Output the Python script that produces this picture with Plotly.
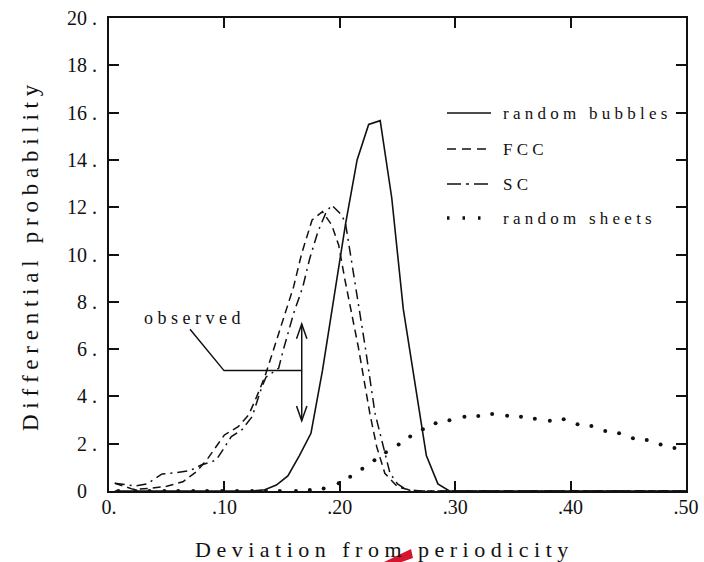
import plotly.graph_objects as go

# ---- data -------------------------------------------------------------
bubbles_x = [0.005, 0.125, 0.135, 0.145, 0.155, 0.165, 0.175, 0.185, 0.195, 0.205,
             0.215, 0.225, 0.235, 0.245, 0.255, 0.265, 0.275, 0.285, 0.295, 0.50]
bubbles_y = [0.0, 0.0, 0.05, 0.25, 0.64, 1.5, 2.44, 5.1, 8.2, 11.3,
             14.0, 15.5, 15.66, 12.4, 7.7, 4.6, 1.5, 0.3, 0.0, 0.0]

fcc_x = [0.005, 0.021, 0.036, 0.050, 0.064, 0.076, 0.086, 0.095, 0.100, 0.112,
         0.121, 0.128, 0.135, 0.142, 0.151, 0.160, 0.167, 0.176, 0.185, 0.193,
         0.199, 0.2045, 0.216, 0.226, 0.232, 0.239, 0.250, 0.260, 0.270, 0.50]
fcc_y = [0.33, 0.07, 0.11, 0.20, 0.39, 0.82, 1.40, 2.02, 2.37, 2.72,
         3.21, 3.99, 4.83, 5.89, 7.23, 8.64, 10.05, 11.46, 11.81, 11.25,
         10.40, 8.92, 6.10, 3.29, 1.87, 0.75, 0.18, 0.05, 0.0, 0.0]

sc_x = [0.005, 0.023, 0.033, 0.046, 0.057, 0.070, 0.080, 0.093, 0.106, 0.115,
        0.124, 0.132, 0.136, 0.147, 0.151, 0.160, 0.168, 0.174, 0.181, 0.188,
        0.193, 0.2016, 0.205, 0.2088, 0.2123, 0.222, 0.2305, 0.2377, 0.2435, 0.250,
        0.258, 0.265, 0.50]
sc_y = [0.33, 0.21, 0.30, 0.72, 0.77, 0.86, 1.10, 1.31, 2.30, 2.58,
        3.14, 4.34, 4.81, 5.19, 5.96, 7.51, 8.64, 9.84, 10.96, 11.77,
        12.09, 11.67, 11.30, 10.15, 8.95, 6.10, 3.29, 1.87, 0.75, 0.30,
        0.05, 0.0, 0.0]

sheets_x = [0.008, 0.023, 0.035, 0.048, 0.060, 0.073, 0.085, 0.098, 0.111, 0.124,
            0.136, 0.148, 0.162, 0.174, 0.186, 0.199, 0.209, 0.2195, 0.230, 0.240,
            0.251, 0.261, 0.272, 0.283, 0.295, 0.308, 0.320, 0.332, 0.345, 0.357,
            0.369, 0.382, 0.394, 0.406, 0.418, 0.430, 0.442, 0.454, 0.466, 0.478,
            0.490]
sheets_y = [0, 0, 0, 0, 0, 0, 0, 0, 0, 0,
            0, 0, 0, 0.04, 0.11, 0.33, 0.60, 0.94, 1.30, 1.64,
            1.97, 2.30, 2.61, 2.86, 2.99, 3.14, 3.17, 3.26, 3.18, 3.14,
            3.06, 2.97, 3.03, 2.82, 2.75, 2.54, 2.44, 2.23, 2.16, 1.97,
            1.82]

# observed range (double arrow) and its label
observed_x = 0.167
observed_range = [2.97, 7.06]
observed_leader_y = 5.09
observed_label_pos = [0.0715, 7.31]

x_tickvals = [0, 0.1, 0.2, 0.3, 0.4, 0.5]
x_ticktext = ["0.", ".10", ".20", ".30", ".40", ".50"]
y_tickvals = [0, 2, 4, 6, 8, 10, 12, 14, 16, 18, 20]
y_ticktext = ["0\u2002", "2\u00a0.", "4\u00a0.", "6\u00a0.", "8\u00a0.", "10\u00a0.",
              "12\u00a0.", "14\u00a0.", "16\u00a0.", "18\u00a0.", "20\u00a0."]

series_names = ["random bubbles", "FCC", "SC", "random sheets"]

# ---- layout constants -------------------------------------------------
W, H = 704, 562
L, R, T, B = 109, 18, 18, 71
FONT = "Liberation Serif, Times New Roman, serif"
INK = "#111111"


def spaced(text, sep="\u00a0"):
    """Letter-spaced text: separator between letters, wider gap between words."""
    return (sep * 3).join(sep.join(word) for word in text.split(" "))


def paper(px, py):
    """Pixel position on the page -> paper coordinates."""
    return (px - L) / (W - L - R), (H - B - py) / (H - T - B)


fig = go.Figure()

fig.add_trace(go.Scatter(x=bubbles_x, y=bubbles_y, mode="lines", name=series_names[0],
                         line=dict(color=INK, width=1.6)))
fig.add_trace(go.Scatter(x=fcc_x, y=fcc_y, mode="lines", name=series_names[1],
                         line=dict(color=INK, width=1.5, dash="8px,5px")))
fig.add_trace(go.Scatter(x=sc_x, y=sc_y, mode="lines", name=series_names[2],
                         line=dict(color=INK, width=1.5, dash="10px,5px,2px,5px")))
fig.add_trace(go.Scatter(x=sheets_x, y=sheets_y, mode="markers", name=series_names[3],
                         marker=dict(color=INK, size=4)))

shapes = []
annotations = []

# legend: sample strokes + letter-spaced labels
legend_rows = [113, 149, 184, 218]
legend_styles = [
    dict(dash="solid", width=1.6),
    dict(dash="9px,6px", width=1.5),
    dict(dash="14px,5px,3px,5px", width=1.5),
    dict(dash="2.5px,13px", width=3.5),
]
for name, py, style in zip(series_names, legend_rows, legend_styles):
    x0, y0 = paper(447, py)
    x1, _ = paper(491, py)
    shapes.append(dict(type="line", xref="paper", yref="paper", x0=x0, x1=x1, y0=y0, y1=y0,
                       line=dict(color=INK, width=style["width"], dash=style["dash"])))
    tx, ty = paper(501, py)
    annotations.append(dict(xref="paper", yref="paper", x=tx, y=ty, xanchor="left",
                            yanchor="middle", showarrow=False, text=spaced(name),
                            font=dict(family=FONT, size=17, color=INK)))

# "observed" marker: double arrow over the observed range with a leader line
lo, hi = observed_range
ah_w, ah_h = 0.0045, 0.62
shapes.append(dict(type="line", xref="x", yref="y", x0=observed_x, x1=observed_x,
                   y0=lo, y1=hi, line=dict(color=INK, width=1.5)))
shapes.append(dict(type="path", xref="x", yref="y",
                   path=f"M {observed_x - ah_w},{hi - ah_h} L {observed_x},{hi} L {observed_x + ah_w},{hi - ah_h}",
                   line=dict(color=INK, width=1.5)))
shapes.append(dict(type="path", xref="x", yref="y",
                   path=f"M {observed_x - ah_w},{lo + ah_h} L {observed_x},{lo} L {observed_x + ah_w},{lo + ah_h}",
                   line=dict(color=INK, width=1.5)))
shapes.append(dict(type="path", xref="x", yref="y",
                   path=f"M 0.0702,6.84 L 0.0997,{observed_leader_y} L {observed_x},{observed_leader_y}",
                   line=dict(color=INK, width=1.5)))
annotations.append(dict(xref="x", yref="y", x=observed_label_pos[0], y=observed_label_pos[1],
                        showarrow=False, text=spaced("observed"),
                        font=dict(family=FONT, size=18, color=INK)))

# axis titles, placed as letter-spaced labels outside the frame
xt, yt = paper(381, 549)
annotations.append(dict(xref="paper", yref="paper", x=xt, y=yt, showarrow=False,
                        xanchor="center", yanchor="middle",
                        text=spaced("Deviation from periodicity"),
                        font=dict(family=FONT, size=22, color=INK)))
xt, yt = paper(30, 258)
annotations.append(dict(xref="paper", yref="paper", x=xt, y=yt, showarrow=False,
                        xanchor="center", yanchor="middle", textangle=-90,
                        text=spaced("Differential probability"),
                        font=dict(family=FONT, size=23, color=INK)))

# red pen stroke below the axis title
pts = [paper(380, 564), paper(411, 549), paper(413, 558), paper(396, 564)]
shapes.append(dict(type="path", xref="paper", yref="paper", layer="above",
                   path="M " + " L ".join(f"{a},{b}" for a, b in pts) + " Z",
                   fillcolor="#d5142e", line=dict(width=0)))

axis_common = dict(showline=True, linecolor=INK, linewidth=2, mirror="ticks",
                   ticks="inside", ticklen=10, tickwidth=1.6, tickcolor=INK,
                   showgrid=False, zeroline=False, automargin=False,
                   tickfont=dict(family=FONT, size=20, color=INK))

fig.update_layout(
    width=W, height=H,
    margin=dict(l=L, r=R, t=T, b=B, autoexpand=False),
    paper_bgcolor="white", plot_bgcolor="white",
    showlegend=False,
    xaxis=dict(range=[0, 0.5], tickvals=x_tickvals, ticktext=x_ticktext,
               ticklabelstandoff=-3, **axis_common),
    yaxis=dict(range=[0, 20], tickvals=y_tickvals, ticktext=y_ticktext,
               ticklabelstandoff=6, **axis_common),
    shapes=shapes,
    annotations=annotations,
)

fig.write_html("out.html")
